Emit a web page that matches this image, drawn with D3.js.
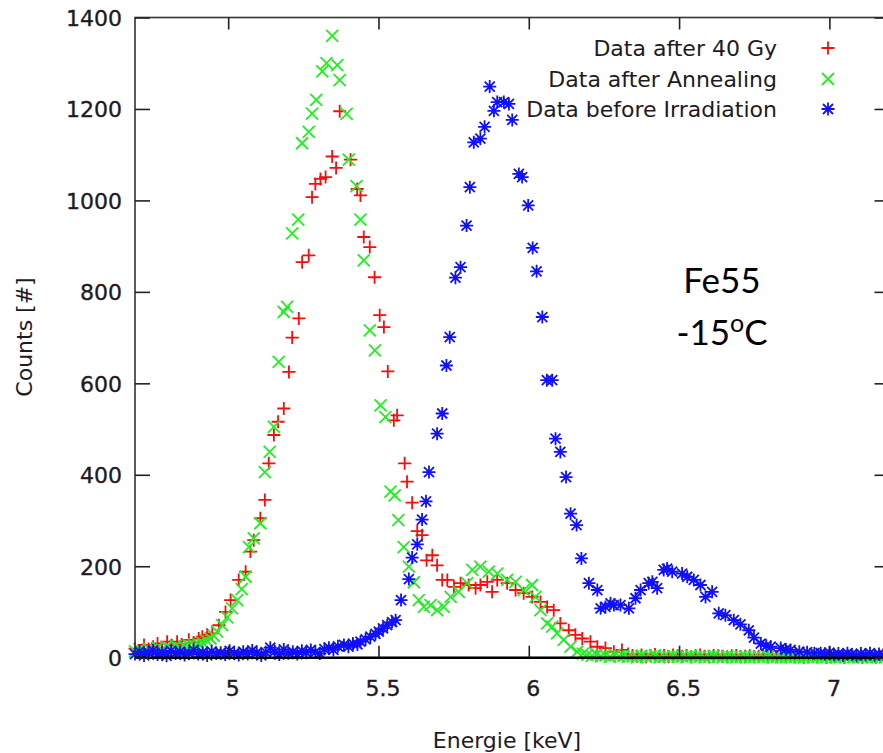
<!DOCTYPE html>
<html>
<head>
<meta charset="utf-8">
<script src="https://cdn.jsdelivr.net/npm/d3@7"></script>
<style>
  body { margin: 0; background: #fff; }
  svg { display: block; }
  text { font-family: "DejaVu Sans", Verdana, sans-serif; fill: #1e1a24; }
  .lbl { stroke: #1e1a24; stroke-width: 0.35px; }
</style>
</head>
<body>
<svg id="chart" width="883" height="753"></svg>
<script>
// Fe55 spectra (counts per energy channel)
const xTicks = [5, 5.5, 6, 6.5, 7];
const yTicks = [0, 200, 400, 600, 800, 1000, 1200, 1400];
const seriesNames = ["Data after 40 Gy", "Data after Annealing", "Data before Irradiation"];

// shared tail channels (flat background above the peaks)
const tailEnergy = [
  6.345, 6.360, 6.375, 6.390, 6.405, 6.420, 6.435, 6.450, 6.465, 6.480,
  6.495, 6.510, 6.525, 6.540, 6.555, 6.570, 6.585, 6.600, 6.615, 6.630,
  6.645, 6.660, 6.675, 6.690, 6.705, 6.720, 6.735, 6.750, 6.765, 6.780,
  6.795, 6.810, 6.825, 6.840, 6.855, 6.870, 6.885, 6.900, 6.915, 6.930,
  6.945, 6.960, 6.975, 6.990, 7.005, 7.020, 7.035, 7.050, 7.065, 7.080,
  7.095, 7.110, 7.125, 7.140, 7.155, 7.170, 7.185, 7.200
];

// Data after 40 Gy
const doseEnergy = [
  4.690, 4.705, 4.720, 4.735, 4.750, 4.765, 4.780, 4.797, 4.812, 4.830,
  4.845, 4.869, 4.885, 4.902, 4.914, 4.930, 4.947, 4.969, 4.991, 5.008,
  5.035, 5.058, 5.074, 5.085, 5.107, 5.122, 5.135, 5.152, 5.166, 5.185,
  5.202, 5.213, 5.235, 5.246, 5.268, 5.279, 5.290, 5.307, 5.324, 5.346,
  5.359, 5.371, 5.407, 5.429, 5.440, 5.451, 5.471, 5.487, 5.504, 5.518,
  5.531, 5.551, 5.562, 5.587, 5.595, 5.612, 5.629, 5.645, 5.660, 5.679,
  5.695, 5.712, 5.729, 5.751, 5.773, 5.800, 5.823, 5.839, 5.862, 5.878,
  5.895, 5.928, 5.956, 5.983, 6.011, 6.039, 6.061, 6.083, 6.105, 6.133,
  6.155, 6.178, 6.205, 6.228, 6.255, 6.283, 6.310, 6.330
].concat(tailEnergy);
const doseCounts = [
  20, 15, 28, 19, 24, 31, 22, 35, 27, 35,
  29, 39, 33, 42, 46, 50, 53, 71, 100, 126,
  170, 188, 232, 257, 305, 345, 425, 487, 516, 545,
  625, 700, 742, 865, 880, 1007, 1036, 1047, 1051, 1096,
  1071, 1195, 1089, 1025, 1011, 920, 898, 832, 749, 723,
  626, 519, 530, 425, 385, 339, 277, 268, 213, 224,
  202, 170, 170, 155, 163, 159, 152, 159, 166, 144,
  170, 163, 148, 141, 133, 122, 111, 104, 75, 60,
  50, 42, 35, 24, 21, 13, 17, 8,
  5, 3, 6, 2, 4, 7, 3, 5, 2, 6,
  4, 3, 5, 2, 4, 6, 3, 2, 5, 4,
  3, 2, 4, 5, 2, 3, 4, 2, 3, 5,
  2, 4, 3, 2, 3, 4, 2, 3, 1, 2,
  4, 2, 3, 1, 2, 3, 2, 1, 3, 2,
  2, 1, 3, 2, 1, 2, 2, 1
];

// Data after Annealing
const annealEnergy = [
  4.690, 4.705, 4.720, 4.735, 4.750, 4.765, 4.780, 4.795, 4.810, 4.825,
  4.840, 4.855, 4.870, 4.886, 4.900, 4.914, 4.928, 4.941, 4.952, 4.963,
  4.980, 4.997, 5.013, 5.030, 5.045, 5.058, 5.069, 5.085, 5.107, 5.122,
  5.138, 5.152, 5.168, 5.185, 5.196, 5.213, 5.233, 5.246, 5.268, 5.279,
  5.293, 5.313, 5.327, 5.346, 5.363, 5.371, 5.394, 5.401, 5.427, 5.440,
  5.451, 5.471, 5.488, 5.507, 5.523, 5.540, 5.554, 5.566, 5.584, 5.601,
  5.618, 5.634, 5.651, 5.673, 5.695, 5.717, 5.740, 5.767, 5.795, 5.812,
  5.839, 5.867, 5.895, 5.928, 5.956, 5.983, 6.011, 6.022, 6.039, 6.061,
  6.078, 6.094, 6.116, 6.139, 6.161, 6.180, 6.195, 6.210, 6.225, 6.240,
  6.255, 6.270, 6.285, 6.300, 6.315, 6.330
].concat(tailEnergy);
const annealCounts = [
  14, 18, 12, 20, 15, 22, 17, 24, 19, 26,
  21, 24, 27, 28, 30, 33, 38, 42, 48, 57,
  71, 88, 108, 126, 150, 177, 242, 261, 294, 406,
  450, 505, 647, 756, 767, 928, 958, 1125, 1150, 1190,
  1220, 1282, 1300, 1360, 1296, 1263, 1189, 1089, 1031, 958,
  869, 716, 672, 552, 526, 363, 355, 301, 242, 199,
  165, 126, 111, 115, 104, 111, 133, 144, 163, 192,
  199, 188, 184, 170, 166, 148, 159, 133, 104, 75,
  68, 53, 39, 24, 13, 9, 6, 4, 7, 3,
  5, 2, 6, 3, 4, 2,
  3, 1, 4, 2, 3, 5, 1, 3, 2, 4,
  2, 3, 1, 4, 2, 3, 1, 2, 4, 2,
  1, 3, 2, 1, 2, 3, 1, 2, 2, 1,
  3, 1, 2, 1, 2, 1, 2, 1, 1, 2,
  1, 2, 1, 1, 2, 1, 1, 2, 1, 1,
  2, 1, 1, 1, 2, 1, 1, 1
];

// Data before Irradiation
const refEnergy = [
  4.690, 4.705, 4.720, 4.735, 4.750, 4.765, 4.780, 4.795, 4.810, 4.825,
  4.840, 4.855, 4.870, 4.885, 4.900, 4.915, 4.930, 4.945, 4.960, 4.975,
  4.990, 5.005, 5.020, 5.035, 5.050, 5.065, 5.080, 5.095, 5.110, 5.125,
  5.140, 5.155, 5.170, 5.185, 5.200, 5.215, 5.230, 5.245, 5.260, 5.275,
  5.290, 5.305, 5.320, 5.335, 5.350, 5.365, 5.385, 5.400, 5.415, 5.430,
  5.440, 5.457, 5.473, 5.490, 5.501, 5.515, 5.529, 5.545, 5.557, 5.575,
  5.601, 5.612, 5.629, 5.645, 5.658, 5.668, 5.695, 5.712, 5.726, 5.737,
  5.756, 5.773, 5.793, 5.804, 5.817, 5.839, 5.853, 5.870, 5.884, 5.895,
  5.917, 5.934, 5.945, 5.967, 5.978, 5.998, 6.013, 6.026, 6.045, 6.060,
  6.078, 6.089, 6.105, 6.124, 6.139, 6.159, 6.175, 6.200, 6.228, 6.239,
  6.255, 6.272, 6.283, 6.305, 6.333, 6.355, 6.372, 6.399, 6.411, 6.427,
  6.449, 6.460, 6.477, 6.510, 6.527, 6.549, 6.571, 6.588, 6.610, 6.632,
  6.654, 6.682, 6.704, 6.732, 6.749, 6.772, 6.790, 6.805, 6.838, 6.855,
  6.871, 6.900, 6.926, 6.950, 6.971, 6.985, 7.000, 7.015, 7.030, 7.045,
  7.060, 7.075, 7.090, 7.105, 7.120, 7.135, 7.150, 7.165, 7.180, 7.195
];
const refCounts = [
  8, 14, 5, 11, 16, 7, 12, 4, 15, 9,
  13, 6, 10, 17, 8, 12, 5, 14, 9, 11,
  7, 15, 10, 6, 13, 8, 16, 11, 5, 12,
  22, 14, 7, 18, 10, 13, 8, 15, 11, 17,
  12, 9, 19, 22, 17, 25, 28, 24, 31, 29,
  35, 40, 46, 52, 57, 64, 71, 78, 82, 126,
  172, 219, 248, 302, 342, 406, 490, 534, 639, 701,
  831, 854, 945, 1029, 1127, 1135, 1161, 1249, 1196, 1215,
  1215, 1211, 1176, 1058, 1051, 989, 896, 845, 745, 607,
  607, 479, 450, 395, 315, 290, 217, 163, 148, 108,
  111, 119, 115, 115, 108, 130, 148, 163, 166, 152,
  192, 195, 188, 184, 177, 170, 159, 133, 144, 97,
  93, 82, 73, 60, 44, 31, 26, 24, 21, 18,
  17, 13, 12, 10, 10, 8, 11, 6, 9, 5,
  10, 7, 4, 9, 6, 10, 5, 8, 6, 9
];

const W = 883, H = 753;
const plot = { left: 135, right: 889.5, top: 17.5, bottom: 657.7 };

const x = d3.scaleLinear().domain([4.69, 7.2]).range([plot.left, plot.right]);
const y = d3.scaleLinear().domain([0, 1400]).range([plot.bottom, plot.top]);

const svg = d3.select("#chart");
svg.append("rect").attr("width", W).attr("height", H).attr("fill", "#fff");

// point symbols: plus, cross, star
const symbols = {
  plus: "M-6.5,0H6.5M0,-6.5V6.5",
  cross: "M-6,-6L6,6M-6,6L6,-6",
  star: "M-6.5,0H6.5M0,-6.5V6.5M-5,-5L5,5M-5,5L5,-5"
};
const series = [
  { name: seriesNames[0], e: doseEnergy, c: doseCounts, color: "#ff0a0a", sym: symbols.plus },
  { name: seriesNames[1], e: annealEnergy, c: annealCounts, color: "#22ee22", sym: symbols.cross },
  { name: seriesNames[2], e: refEnergy, c: refCounts, color: "#1010ff", sym: symbols.star }
];

const marks = svg.append("g");
series.forEach(s => {
  const pts = d3.range(Math.min(s.e.length, s.c.length)).map(i => [s.e[i], s.c[i]]);
  marks.append("g")
    .selectAll("path")
    .data(pts)
    .join("path")
    .attr("d", s.sym)
    .attr("transform", d => `translate(${x(d[0])},${y(d[1])})`)
    .attr("fill", "none")
    .attr("stroke", s.color)
    .attr("stroke-width", 1.8);
});

// frame
svg.append("rect")
  .attr("x", plot.left).attr("y", plot.top)
  .attr("width", plot.right - plot.left).attr("height", plot.bottom - plot.top)
  .attr("fill", "none").attr("stroke", "#333").attr("stroke-width", 1.6);
svg.append("line")
  .attr("x1", plot.left).attr("x2", plot.right)
  .attr("y1", y(0)).attr("y2", y(0))
  .attr("stroke", "#000").attr("stroke-width", 2.4);

// axes
const fontSize = 22;
const gx = svg.append("g").attr("transform", `translate(0,${plot.bottom})`)
  .call(d3.axisBottom(x).tickValues(xTicks).tickFormat(d3.format("")).tickSizeInner(-12).tickSizeOuter(0).tickPadding(23));
const gxTop = svg.append("g").attr("transform", `translate(0,${plot.top})`)
  .call(d3.axisTop(x).tickValues(xTicks).tickFormat("").tickSizeInner(-12).tickSizeOuter(0));
const gy = svg.append("g").attr("transform", `translate(${plot.left},0)`)
  .call(d3.axisLeft(y).tickValues(yTicks).tickFormat(d3.format("d")).tickSizeInner(-15).tickSizeOuter(0).tickPadding(13));
const gyRight = svg.append("g").attr("transform", `translate(${plot.right},0)`)
  .call(d3.axisRight(y).tickValues(yTicks).tickFormat("").tickSizeInner(-15).tickSizeOuter(0));

[gx, gxTop, gy, gyRight].forEach(g => {
  g.select(".domain").remove();
  g.selectAll(".tick line").attr("stroke", "#222").attr("stroke-width", 1.6);
  g.selectAll("text")
    .attr("class", "lbl")
    .attr("font-family", "DejaVu Sans")
    .attr("font-size", fontSize)
    .attr("fill", "#1e1a24");
});
gx.selectAll("text").attr("x", 4);
gy.selectAll("text").attr("dy", "0.36em");

// axis titles
svg.append("text")
  .attr("x", 507).attr("y", 748)
  .attr("text-anchor", "middle")
  .attr("font-size", fontSize)
  .text("Energie [keV]");
svg.append("text")
  .attr("transform", "translate(32,337) rotate(-90)")
  .attr("text-anchor", "middle")
  .attr("font-size", fontSize)
  .text("Counts [#]");

// key
const legendRows = [48, 79, 109];
const legend = svg.append("g");
series.forEach((s, i) => {
  legend.append("text")
    .attr("x", 777).attr("y", legendRows[i])
    .attr("dy", "0.36em")
    .attr("text-anchor", "end")
    .attr("font-size", fontSize)
    .text(s.name);
  legend.append("path")
    .attr("d", s.sym)
    .attr("transform", `translate(828,${legendRows[i]})`)
    .attr("fill", "none")
    .attr("stroke", s.color)
    .attr("stroke-width", 1.8);
});

// source / temperature note
const note = svg.append("g");
note.append("text")
  .attr("x", 722).attr("y", 293)
  .attr("text-anchor", "middle")
  .attr("font-size", 35)
  .style("font-family", "Lato, sans-serif")
  .style("fill", "#000")
  .text("Fe55");
const t2 = note.append("text")
  .attr("x", 722).attr("y", 345)
  .attr("text-anchor", "middle")
  .attr("font-size", 35)
  .style("font-family", "Lato, sans-serif")
  .style("fill", "#000");
t2.append("tspan").text("-15");
t2.append("tspan").attr("font-size", 25).attr("dy", -13).text("o");
t2.append("tspan").attr("dy", 13).text("C");
</script>
</body>
</html>
